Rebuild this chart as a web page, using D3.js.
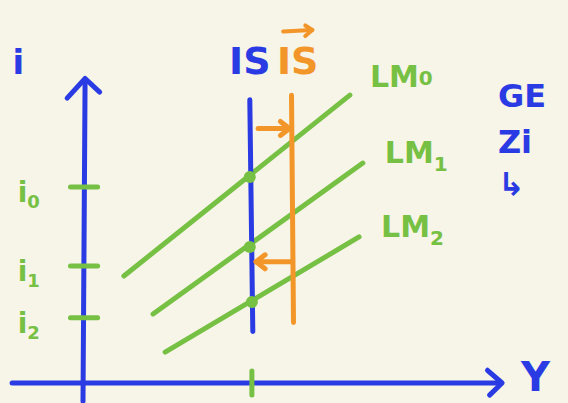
<!DOCTYPE html>
<html lang="en">
<head>
  <meta charset="UTF-8">
  <style>
    body { margin: 0; padding: 0; background: #f7f4e8; overflow: hidden; }
    svg { display: block; }
    text { font-family: "DejaVu Sans", sans-serif; font-weight: bold; }
  </style>
</head>
<body>
  <svg id="chart"></svg>
  <script src="https://d3js.org/d3.v7.min.js"></script>
  <script>
    let width = 568, height = 403;

    // IS curves (vertical): position on Y, vertical extent on i
    let isCurves = [
      { name: "IS",  y: 4.0, from: 1.7, to: 9.35, color: "#2a3be3" },
      { name: "IS'", y: 5.0, from: 2.0, to: 9.5,  color: "#f3962a" }
    ];
    // LM curves: start and end points [Y, i]
    let lmCurves = [
      { name: "LM", sub: "0", p0: [0.98, 3.53], p1: [6.4, 9.5] },
      { name: "LM", sub: "1", p0: [1.68, 2.28], p1: [6.71, 7.26] },
      { name: "LM", sub: "2", p0: [1.97, 1.02], p1: [6.62, 4.82] }
    ];
    // equilibrium dots on IS
    let eqPoints = [[4.0, 6.8], [4.0, 4.49], [4.05, 2.67]];
    // interest rate ticks on the i axis
    let iTicks = [
      { label: "i", sub: "0", value: 6.47 },
      { label: "i", sub: "1", value: 3.86 },
      { label: "i", sub: "2", value: 2.15 }
    ];
    // shift arrows between IS and IS' [fromY, toY, i]
    let shiftArrows = [[4.2, 4.95, 8.4], [5.0, 4.15, 4.0]];
    // notes at the right edge (cut off in the sketch)
    let notes = [["GE", 9.1], ["Zi", 7.6], ["↳", 6.2]];

    let blue = "#2a3be3", green = "#76c043", orange = "#f3962a";

    let x = d3.scaleLinear().domain([0, 10]).range([83, 500]);
    let y = d3.scaleLinear().domain([0, 10]).range([383, 80]);

    let svg = d3.select("#chart").attr("width", width).attr("height", height);

    let stroke = (sel, c, w) => sel.attr("stroke", c).attr("stroke-width", w)
      .attr("stroke-linecap", "round").attr("stroke-linejoin", "round").attr("fill", "none");

    // axes
    svg.append("line").attr("x1", x(0)).attr("x2", x(0.05)).attr("y1", y(-0.6)).attr("y2", y(10))
      .call(stroke, blue, 5);
    svg.append("path").attr("d", d3.line()([[x(-0.38), y(9.4)], [x(0.05), y(10.05)], [x(0.4), y(9.6)]]))
      .call(stroke, blue, 5);
    svg.append("line").attr("x1", x(-1.7)).attr("x2", x(10)).attr("y1", y(0)).attr("y2", y(0))
      .call(stroke, blue, 5);
    svg.append("path").attr("d", d3.line()([[x(9.7), y(0.42)], [x(10.05), y(0)], [x(9.75), y(-0.4)]]))
      .call(stroke, blue, 5);

    svg.append("text").attr("x", x(-1.55)).attr("y", y(10.2)).attr("fill", blue)
      .attr("font-size", 34).attr("text-anchor", "middle").text("i");
    svg.append("text").attr("x", x(10.85)).attr("y", y(-0.25)).attr("fill", blue)
      .attr("font-size", 40).attr("text-anchor", "middle").text("Y");

    // ticks on i axis
    iTicks.forEach(t => {
      svg.append("line").attr("x1", x(-0.3)).attr("x2", x(0.35)).attr("y1", y(t.value)).attr("y2", y(t.value))
        .call(stroke, green, 5);
      let lbl = svg.append("text").attr("x", x(-1.3)).attr("y", y(t.value) + 15).attr("fill", green)
        .attr("font-size", 28).attr("text-anchor", "middle");
      lbl.append("tspan").text(t.label);
      lbl.append("tspan").attr("font-size", 18).attr("dy", 6).text(t.sub);
    });

    // tick on Y axis
    svg.append("line").attr("x1", x(4.05)).attr("x2", x(4.05)).attr("y1", y(0.4)).attr("y2", y(-0.4))
      .call(stroke, green, 5);

    // LM curves
    lmCurves.forEach((d, k) => {
      svg.append("line").attr("x1", x(d.p0[0])).attr("y1", y(d.p0[1]))
        .attr("x2", x(d.p1[0])).attr("y2", y(d.p1[1])).call(stroke, green, 5);
      let lbl = svg.append("text").attr("x", x(d.p1[0]) + (k == 0 ? 20 : 22)).attr("y", y(d.p1[1]) - (k == 0 ? 8 : 0))
        .attr("fill", green).attr("font-size", 30);
      lbl.append("tspan").text(d.name);
      lbl.append("tspan").attr("font-size", 20).attr("dy", k == 0 ? -2 : 8).text(d.sub);
    });

    // IS curves
    isCurves.forEach(d => {
      svg.append("line").attr("x1", x(d.y)).attr("x2", x(d.y) + (d.name == "IS" ? 3 : 2))
        .attr("y1", y(d.to)).attr("y2", y(d.from)).call(stroke, d.color, 5);
    });
    svg.append("text").attr("x", x(4.0)).attr("y", y(10.35) + 5).attr("fill", blue)
      .attr("font-size", 38).attr("text-anchor", "middle").text("IS");
    svg.append("text").attr("x", x(5.15)).attr("y", y(10.35) + 5).attr("fill", orange)
      .attr("font-size", 38).attr("text-anchor", "middle").text("IS");
    svg.append("path").attr("d", d3.line()([[x(4.8), y(11.6)], [x(5.5), y(11.65)]])).call(stroke, orange, 4);
    svg.append("path").attr("d", d3.line()([[x(5.33), y(11.8)], [x(5.5), y(11.65)], [x(5.33), y(11.45)]])).call(stroke, orange, 4);

    // shift arrows
    shiftArrows.forEach(a => {
      let dir = a[1] > a[0] ? 1 : -1;
      svg.append("line").attr("x1", x(a[0])).attr("x2", x(a[1])).attr("y1", y(a[2])).attr("y2", y(a[2]))
        .call(stroke, orange, 5);
      svg.append("path").attr("d", d3.line()([
        [x(a[1]) - dir * 9, y(a[2]) - 7], [x(a[1]), y(a[2])], [x(a[1]) - dir * 9, y(a[2]) + 7]
      ])).call(stroke, orange, 5);
    });

    // equilibrium dots
    svg.selectAll("circle.eq").data(eqPoints).enter().append("circle")
      .attr("cx", d => x(d[0])).attr("cy", d => y(d[1])).attr("r", 6).attr("fill", green);

    notes.forEach(n => {
      svg.append("text").attr("x", x(9.95)).attr("y", y(n[1])).attr("fill", blue)
        .attr("font-size", 32).text(n[0]);
    });
  </script>
</body>
</html>
